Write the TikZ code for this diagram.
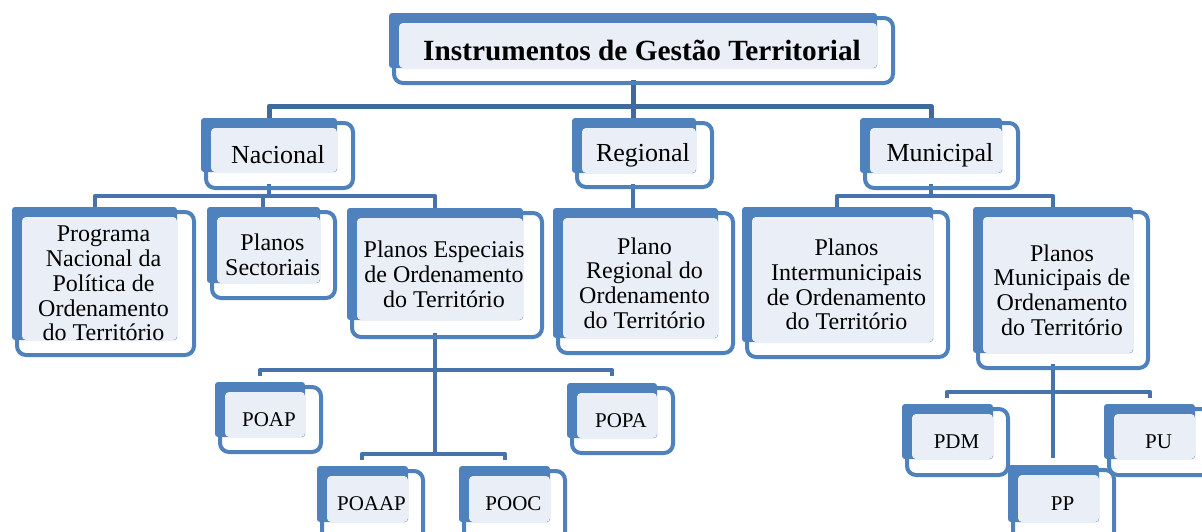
\documentclass[tikz,border=0pt]{standalone}
\usepackage{fontspec}
\setmainfont{Liberation Serif}
\definecolor{backblue}{HTML}{4F81BD}
\definecolor{lightfill}{HTML}{EAEFF7}
\definecolor{linkblue}{HTML}{4673AB}
\definecolor{linkdark}{HTML}{3F6A9E}
\tikzset{
  frameline/.style={draw=backblue, line width=4pt, rounded corners=9pt},
  txtbig/.style={align=center, inner sep=0pt, font=\fontsize{29.3}{31}\selectfont\bfseries},
  txtmid/.style={align=center, inner sep=0pt, font=\fontsize{26}{27}\selectfont},
  txtlev/.style={align=center, inner sep=0pt, font=\fontsize{24}{24.8}\selectfont},
  txtsml/.style={align=center, inner sep=0pt, font=\fontsize{21}{22}\selectfont},
  linkA/.style={draw=linkdark, line width=5pt, line join=round},
  linkB/.style={draw=linkblue, line width=4.2pt, line join=round},
}
% #1 style, #2 name, #3 x0, #4 y0, #5 x1, #6 y1, #7 frame right, #8 frame bottom, #9 text
\newcommand\gbox[9]{%
  \fill[backblue, rounded corners=3pt] (#3,#4) rectangle (#5,#6);
  \fill[lightfill, rounded corners=4pt] ({#3+10},{#4+10}) rectangle (#5,#6);
  \draw[frameline] ({#3+5},{#4+5}) rectangle (#7,#8);
  \node[#1] (#2) at ({(#3+10+#5)/2+4},{(#4+10+#6)/2+5}) {#9};
  \coordinate (#2-top) at ({(#3+#5)/2},#4);
  \coordinate (#2-bot) at ({(#3+#5)/2},#8);
}
\begin{document}
\begin{tikzpicture}[x=1pt,y=-1pt]
\useasboundingbox (0,0) rectangle (1202,531);
\clip (0,0) rectangle (1202,531);
% connector junction points
\coordinate (j0) at (633,106);
\coordinate (j1) at (269,196);
\coordinate (j1b) at (263,196);
\coordinate (j2) at (931,196);
\coordinate (j3) at (435,370);
\coordinate (j4) at (435,454);
\coordinate (j5) at (1053,392);
% level 1 connectors
\draw[linkA] (633,80) -- (j0);
\draw[linkA] (269,120) |- (j0) -| (931,120);
\draw[linkA] (j0) -- (633,120);
% level 2 connectors
\draw[linkB] (269,184) -- (j1);
\draw[linkB] (95,209) |- (j1) -| (435,209);
\draw[linkB] (j1b) -- (263,209);
\draw[linkB] (633,184) -- (633,210);
\draw[linkB] (931,184) -- (j2);
\draw[linkB] (837,209) |- (j2) -| (1053,209);
% level 3 connectors
\draw[linkB] (435,333) -- (j4);
\draw[linkB] (260,376) |- (j3) -| (612,376);
\draw[linkB] (362,460) |- (j4) -| (505,460);
\draw[linkB] (1053,364) -- (1053,458);
\draw[linkB] (947,398) |- (j5) -| (1150,398);
% boxes
\gbox{txtbig}{title}{389}{13}{877}{68}{893}{83}{Instrumentos de Gestão Territorial}
\gbox{txtmid}{nac}{201}{118}{337}{172}{353}{188}{Nacional}
\gbox{txtmid}{reg}{572}{118}{696}{173}{712}{187}{Regional}
\gbox{txtmid}{mun}{860}{118}{1002}{173}{1018}{188}{Municipal}
\gbox{txtlev}{pnpot}{12}{207}{177}{340}{194}{355}{Programa\\Nacional da\\Política de\\Ordenamento\\do Território}
\gbox{txtlev}{ps}{207}{207}{320}{283}{335}{298}{Planos\\Sectoriais}
\gbox{txtlev}{pe}{347}{208}{523}{320}{542}{337}{Planos Especiais\\de Ordenamento\\do Território}
\gbox{txtlev}{pr}{553}{208}{718}{338}{733}{353}{Plano\\Regional do\\Ordenamento\\do Território}
\gbox{txtlev}{pi}{742}{207}{933}{342}{948}{357}{Planos\\Intermunicipais\\de Ordenamento\\do Território}
\gbox{txtlev}{pm}{973}{207}{1133}{353}{1148}{368}{Planos\\Municipais de\\Ordenamento\\do Território}
\gbox{txtsml}{poap}{215}{382}{305}{437}{321}{452}{POAP}
\gbox{txtsml}{popa}{567}{383}{657}{438}{673}{453}{POPA}
\gbox{txtsml}{poaap}{317}{466}{408}{522}{423}{545}{POAAP}
\gbox{txtsml}{pooc}{459}{466}{550}{522}{565}{545}{POOC}
\gbox{txtsml}{pdm}{902}{404}{993}{459}{1008}{475}{PDM}
\gbox{txtsml}{pu}{1104}{404}{1195}{459}{1212}{475}{PU}
\gbox{txtsml}{pp}{1008}{465}{1099}{522}{1114}{545}{PP}
\end{tikzpicture}
\end{document}
